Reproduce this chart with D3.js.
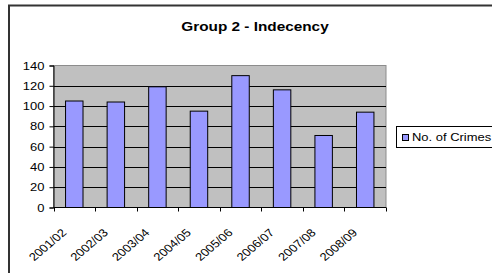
<!DOCTYPE html>
<html><head><meta charset="utf-8">
<script src="https://cdn.jsdelivr.net/npm/d3@7"></script>
<style>body{margin:0;background:#fff}svg{display:block;font-family:Arial,"Liberation Sans",sans-serif}</style>
</head><body>
<script>
const categories = ["2001/02","2002/03","2003/04","2004/05","2005/06","2006/07","2007/08","2008/09"];
const crimes = [105,104,119,95,130,116,71,94];
const yTicks = [0,20,40,60,80,100,120,140];
const seriesName = "No. of Crimes";
const title = "Group 2 - Indecency";

(function(){
const W = 492, H = 273, SX = 1.18;
const svg = d3.select("body").append("svg").attr("width", W).attr("height", H);

// outer chart border
svg.append("rect").attr("x", 9).attr("y", 5.5).attr("width", W + 20).attr("height", H + 20)
  .attr("fill", "#fff").attr("stroke", "#333").attr("stroke-width", 2);

const pL = 53.5, pR = 386, pT = 65.5, pB = 207.5;
const x = d3.scaleBand().domain(categories).range([pL, pR]).paddingInner(0).paddingOuter(0);
const y = d3.scaleLinear().domain([0, 140]).range([pB, pT]);

// plot area
svg.append("rect").attr("x", pL).attr("y", pT).attr("width", pR - pL).attr("height", pB - pT)
  .attr("fill", "#c0c0c0").attr("stroke", "#8c8c8c").attr("stroke-width", 1);

// gridlines
svg.append("g").selectAll("line").data(yTicks.filter(d => d > 0 && d < 140)).join("line")
  .attr("x1", pL).attr("x2", pR).attr("y1", d => Math.round(y(d)) + 0.5).attr("y2", d => Math.round(y(d)) + 0.5)
  .attr("stroke", "#000").attr("stroke-width", 1);

// bars
const bw = x.bandwidth() * 0.42;
svg.append("g").selectAll("rect").data(crimes).join("rect")
  .attr("x", (d, i) => x(categories[i]) + x.bandwidth() / 2 - bw / 2)
  .attr("y", d => y(d))
  .attr("width", bw).attr("height", d => y(0) - y(d))
  .attr("fill", "#9999ff").attr("stroke", "#000").attr("stroke-width", 1);

// y axis
const yAxis = d3.axisLeft(y).tickValues(yTicks).tickSize(4).tickPadding(4);
const gy = svg.append("g").attr("transform", `translate(${pL},0)`).call(yAxis);
gy.select(".domain").attr("stroke", "#000");
gy.selectAll(".tick line").attr("stroke", "#000");
gy.selectAll(".tick text").attr("font-size", 11).attr("fill", "#000").attr("font-family", "Arial, 'Liberation Sans', sans-serif");
gy.selectAll(".tick text").each(function(){
  const t = d3.select(this);
  const xx = +t.attr("x");
  t.attr("x", null).attr("transform", `translate(${xx - 1},0) scale(${SX},1)`);
});

// x axis
const gx = svg.append("g").attr("transform", `translate(0,${pB})`);
gx.append("line").attr("x1", pL).attr("x2", pR).attr("y1", 0).attr("y2", 0).attr("stroke", "#000");
const bounds = categories.map(c => x(c)).concat([pR]);
gx.selectAll("line.tk").data(bounds).join("line").attr("class", "tk")
  .attr("x1", d => Math.round(d) + 0.5).attr("x2", d => Math.round(d) + 0.5).attr("y1", 0).attr("y2", 4)
  .attr("stroke", "#000");
gx.selectAll("text").data(categories).join("text")
  .attr("transform", d => `translate(${x(d) + x.bandwidth() / 2 - 7},${26}) scale(${SX},1) rotate(-45)`)
  .attr("text-anchor", "end").attr("font-size", 11).attr("fill", "#000")
  .text(d => d);

// title
svg.append("text").attr("transform", `translate(255,31) scale(${SX},1)`)
  .attr("text-anchor", "middle").attr("font-size", 13).attr("font-weight", "bold").text(title);

// legend
const lg = svg.append("g");
lg.append("rect").attr("x", 396.5).attr("y", 126.5).attr("width", 120).attr("height", 21)
  .attr("fill", "#fff").attr("stroke", "#000");
lg.append("rect").attr("x", 402.5).attr("y", 134.5).attr("width", 6).attr("height", 6)
  .attr("fill", "#9999ff").attr("stroke", "#000");
lg.append("text").attr("transform", `translate(412,141) scale(${SX},1)`)
  .attr("font-size", 11).text(seriesName);
})();
</script>
</body></html>
